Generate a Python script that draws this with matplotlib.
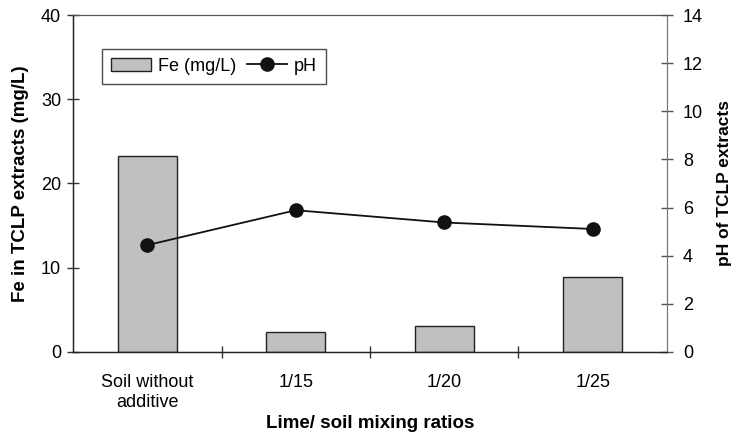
import matplotlib
matplotlib.use("Agg")
import matplotlib.pyplot as plt
import numpy as np

categories = ["Soil without\nadditive", "1/15", "1/20", "1/25"]
fe_values = [23.3, 2.4, 3.1, 8.85]
ph_values = [4.44, 5.89, 5.38, 5.11]

plt.rcParams['font.family'] = ['Liberation Sans', 'DejaVu Sans']

fig = plt.figure(figsize=(7.34, 4.34), dpi=100)
ax = fig.add_axes([0.0995, 0.189, 0.8092, 0.7764])
x = np.arange(len(categories))
bars = ax.bar(x, fe_values, width=0.40, color='#c0c0c0', edgecolor='#222222', linewidth=1.0, label='Fe (mg/L)', zorder=2)
ax.set_xlim(-0.5, 3.5)
ax.set_ylim(0, 40)
ax.set_yticks([0, 10, 20, 30, 40])
ax.set_xticks(x)
ax.set_xticklabels(categories, fontsize=13, linespacing=1.2)
ax.set_xticks(np.arange(0.5, 3.5, 1.0), minor=True)
ax.tick_params(axis='x', which='major', length=0, pad=16)
ax.tick_params(axis='x', which='minor', direction='inout', length=9, width=1, color='#333333')
ax.tick_params(axis='y', direction='inout', length=9, width=1, labelsize=13, color='#333333', pad=4)
ax.set_ylabel('Fe in TCLP extracts (mg/L)', fontsize=13.5, fontweight='bold', labelpad=9)
ax.set_xlabel('Lime/ soil mixing ratios', fontsize=13.5, fontweight='bold', labelpad=3)
for s in ['left', 'bottom']:
    ax.spines[s].set_color('#222222')
    ax.spines[s].set_linewidth(1.0)
ax.spines['top'].set_color('#555555')
ax.spines['right'].set_color('#777777')

ax2 = ax.twinx()
line, = ax2.plot(x, ph_values, color='#111111', marker='o', markersize=9.5, linewidth=1.3, label='pH', zorder=3)
ax2.set_ylim(0, 14)
ax2.set_yticks(np.arange(0, 15, 2))
ax2.tick_params(axis='y', direction='inout', length=9, width=1, labelsize=13, color='#555555', pad=7)
ax2.set_ylabel('pH of TCLP extracts', fontsize=12.5, fontweight='bold', labelpad=10)
ax2.spines['right'].set_color('#777777')
ax2.spines['top'].set_color('#555555')
ax2.spines['left'].set_color('#222222')
ax2.spines['bottom'].set_color('#222222')

leg = ax.legend([bars, line], ['Fe (mg/L)', 'pH'], ncol=2, loc='upper left',
                bbox_to_anchor=(0.049, 0.9), fontsize=13, frameon=True, fancybox=False,
                edgecolor='#222222', handlelength=2.2, handletextpad=0.4, columnspacing=0.6,
                borderpad=0.5, borderaxespad=0)
leg.get_frame().set_linewidth(1.0)
leg.set_zorder(5)

fig.savefig('out.png', dpi=100)
